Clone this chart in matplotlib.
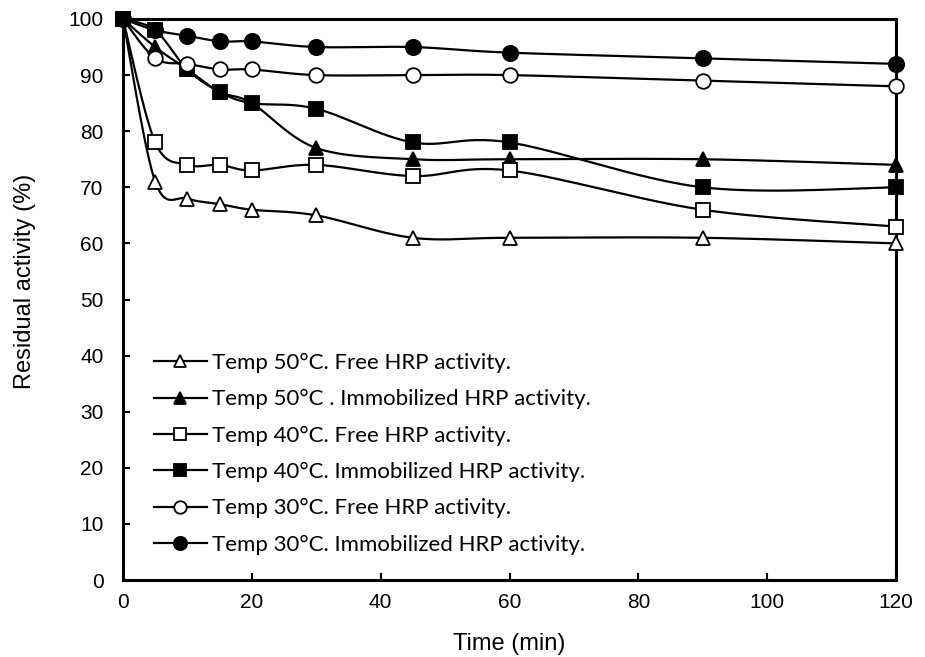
import numpy as np
import matplotlib
matplotlib.use("Agg")
import matplotlib.pyplot as plt

time_min = [0, 5, 10, 15, 20, 30, 45, 60, 90, 120]

free_50 = [100, 71, 68, 67, 66, 65, 61, 61, 61, 60]
immob_50 = [100, 95, 91, 87, 85, 77, 75, 75, 75, 74]
free_40 = [100, 78, 74, 74, 73, 74, 72, 73, 66, 63]
immob_40 = [100, 98, 91, 87, 85, 84, 78, 78, 70, 70]
free_30 = [100, 93, 92, 91, 91, 90, 90, 90, 89, 88]
immob_30 = [100, 98, 97, 96, 96, 95, 95, 94, 93, 92]

labels = [
    "Temp 50°C. Free HRP activity.",
    "Temp 50°C . Immobilized HRP activity.",
    "Temp 40°C. Free HRP activity.",
    "Temp 40°C. Immobilized HRP activity.",
    "Temp 30°C. Free HRP activity.",
    "Temp 30°C. Immobilized HRP activity.",
]


def smooth(xs, ys, n=30):
    # excel-like smoothed line: cubic bezier, control points from neighbours
    # work in roughly screen-proportional units so the curve shape matches
    sx, sy = 773 / 120.0, 561 / 100.0
    p = np.column_stack([np.array(xs, float) * sx, np.array(ys, float) * sy])
    out = [p[0]]
    t = np.linspace(0, 1, n)[1:, None]
    for i in range(len(p) - 1):
        p0 = p[i - 1] if i > 0 else p[i]
        p3 = p[i + 2] if i + 2 < len(p) else p[i + 1]
        c1 = p[i] + (p[i + 1] - p0) / 6.0
        c2 = p[i + 1] - (p3 - p[i]) / 6.0
        seg = ((1 - t) ** 3) * p[i] + 3 * ((1 - t) ** 2) * t * c1 \
            + 3 * (1 - t) * t ** 2 * c2 + t ** 3 * p[i + 1]
        out.extend(seg)
    out = np.array(out)
    return out[:, 0] / sx, out[:, 1] / sy


fig = plt.figure(figsize=(9.25, 6.57), dpi=100)
ax = fig.add_axes([123 / 925, 1 - 580 / 657, (896 - 123) / 925, (580 - 19) / 657])

series = [
    (free_50, "^", "white", 9.5),
    (immob_50, "^", "black", 9.5),
    (free_40, "s", "white", 10),
    (immob_40, "s", "black", 10.5),
    (free_30, "o", "white", 10.5),
    (immob_30, "o", "black", 11),
]

for (ys, mk, fc, ms), lab in zip(series, labels):
    sxs, sys_ = smooth(time_min, ys)
    ax.plot(sxs, sys_, color="black", lw=1.6, zorder=2, clip_on=False)
    ax.plot(time_min, ys, ls="none", marker=mk, ms=ms, mfc=fc, mec="black",
            mew=1.3, zorder=3, clip_on=False)
    ax.plot([], [], color="black", lw=1.6, marker=mk, ms=ms - 1.5, mfc=fc,
            mec="black", mew=1.3, label=lab)

ax.set_xlim(0, 120)
ax.set_ylim(0, 100)
ax.set_xticks(range(0, 121, 20))
ax.set_yticks(range(0, 101, 10))

tick_font = ["Liberation Sans", "DejaVu Sans"]
for lab in ax.get_xticklabels() + ax.get_yticklabels():
    lab.set_family(tick_font)
    lab.set_fontsize(15)
ax.tick_params(direction="in", length=5, width=1.5)
ax.tick_params(axis="y", pad=14)
ax.tick_params(axis="x", pad=9)

for s in ax.spines.values():
    s.set_linewidth(2.2)
    s.set_color("black")

ax.set_xlabel("Time (min)", family=tick_font, fontsize=17)
ax.xaxis.set_label_coords(0.5, -0.114)
ax.xaxis.label.set_va("center")
ax.set_ylabel("Residual activity (%)", family=tick_font, fontsize=17)
ax.yaxis.set_label_coords(-0.127, 0.533)
ax.yaxis.label.set_va("center")

leg = ax.legend(loc="lower left", bbox_to_anchor=(0.028, 0.029), frameon=False,
                prop={"family": ["Lato", "DejaVu Sans"], "size": 16},
                handlelength=2.4, handletextpad=0.25, labelspacing=0.73,
                borderaxespad=0)

fig.savefig("out.png", dpi=100)
